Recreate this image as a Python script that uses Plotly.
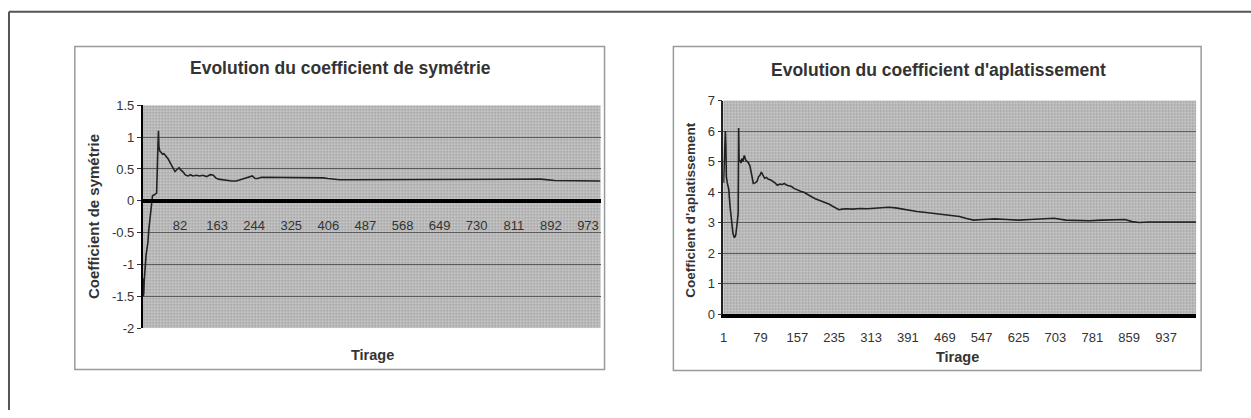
import plotly.graph_objects as go

W, H = 1251, 418

# ---------------- data ----------------
TIRAGE_SYM = [1, 2, 3, 4, 6, 8, 10, 12, 14, 16, 18, 20, 22, 25, 28, 31, 34, 35, 36, 38, 41, 44, 47, 50,
              53, 56, 59, 62, 65, 68, 71, 74, 77, 80, 83, 86, 89, 92, 95, 100, 105, 110, 118, 125, 132,
              140, 148, 155, 160, 166, 175, 185, 195, 205, 215, 225, 235, 240, 246, 252, 260, 275, 290,
              305, 320, 335, 350, 365, 380, 395, 405, 415, 430, 450, 480, 520, 560, 600, 640, 680, 720,
              760, 800, 840, 870, 900, 930, 960, 1000]
SKEW = [-1.22, -1.5, -1.45, -1.25, -1.0, -0.85, -0.75, -0.65, -0.45, -0.3, -0.1, 0.02, 0.08, 0.09,
        0.1, 0.12, 0.9, 1.1, 0.85, 0.78, 0.76, 0.73, 0.74, 0.71, 0.70, 0.66, 0.62, 0.58, 0.53, 0.49,
        0.46, 0.48, 0.5, 0.52, 0.49, 0.46, 0.45, 0.42, 0.40, 0.39, 0.41, 0.39, 0.40, 0.39, 0.40, 0.38,
        0.41, 0.40, 0.36, 0.34, 0.33, 0.32, 0.31, 0.31, 0.33, 0.36, 0.38, 0.39, 0.35, 0.35, 0.37, 0.37,
        0.36, 0.37, 0.37, 0.37, 0.36, 0.37, 0.37, 0.36, 0.35, 0.34, 0.33, 0.33, 0.33, 0.34, 0.34, 0.34,
        0.34, 0.33, 0.33, 0.33, 0.33, 0.34, 0.34, 0.32, 0.32, 0.32, 0.31]

TIRAGE_APL = [1, 3, 5, 6, 7, 9, 12, 15, 18, 21, 24, 27, 30, 32, 33, 34, 36, 38, 40, 42, 45, 48, 51, 54,
              57, 60, 62, 64, 68, 72, 75, 78, 81, 84, 88, 92, 96, 100, 105, 110, 115, 120, 125, 130,
              135, 140, 145, 150, 155, 160, 165, 170, 175, 180, 185, 190, 195, 200, 205, 210, 215, 220,
              225, 230, 235, 240, 245, 252, 260, 275, 290, 305, 320, 335, 350, 365, 380, 395, 410, 425,
              440, 455, 470, 485, 500, 515, 530, 550, 575, 600, 625, 650, 675, 700, 725, 750, 775, 800,
              825, 850, 865, 880, 900, 930, 960, 1000]
KURT = [4.3, 5.0, 6.0, 5.5, 4.5, 4.3, 4.1, 3.5, 3.0, 2.65, 2.5, 2.6, 3.0, 3.3, 6.1, 5.0, 5.05, 4.95,
        5.1, 5.0, 5.2, 5.05, 5.0, 4.95, 4.85, 4.6, 4.35, 4.28, 4.3, 4.35, 4.5, 4.55, 4.65, 4.55, 4.45,
        4.48, 4.42, 4.40, 4.36, 4.3, 4.22, 4.26, 4.25, 4.28, 4.22, 4.2, 4.18, 4.12, 4.08, 4.06, 4.02,
        4.0, 3.95, 3.9, 3.86, 3.82, 3.78, 3.75, 3.72, 3.69, 3.67, 3.64, 3.6, 3.55, 3.5, 3.45, 3.42,
        3.44, 3.45, 3.44, 3.46, 3.45, 3.47, 3.50, 3.50, 3.48, 3.44, 3.39, 3.36, 3.34, 3.31, 3.30, 3.27,
        3.23, 3.20, 3.13, 3.08, 3.10, 3.12, 3.10, 3.08, 3.10, 3.12, 3.14, 3.08, 3.06, 3.06, 3.08, 3.08,
        3.10, 3.03, 3.0, 3.02, 3.02, 3.02, 3.02]

N_TIRAGES = 1000
SYM_TICKS = [82, 163, 244, 325, 406, 487, 568, 649, 730, 811, 892, 973]
APL_TICKS = [1, 79, 157, 235, 313, 391, 469, 547, 625, 703, 781, 859, 937]
SYM_YTICKS = [-2, -1.5, -1, -0.5, 0, 0.5, 1, 1.5]
SYM_YLABELS = ["-2", "-1.5", "-1", "-0.5", "0", "0.5", "1", "1.5"]
APL_YTICKS = [0, 1, 2, 3, 4, 5, 6, 7]

TITLE_SYM = "Evolution du coefficient de symétrie"
TITLE_APL = "Evolution du coefficient d'aplatissement"
YTITLE_SYM = "Coefficient de symétrie"
YTITLE_APL = "Coefficient d'aplatissement"
XTITLE = "Tirage"

# ---------------- layout helpers ----------------
FONT = "Arial, Liberation Sans, sans-serif"
def px_x(p):
    return p / W
def px_y(p):
    return 1 - p / H

X_RANGE = [0.5, N_TIRAGES + 0.5]
SYM_RANGE = [-2, 1.5]
APL_RANGE = [0, 7]

# plot areas in pixels
P1 = dict(l=140, r=599, t=102, b=333)
P2 = dict(l=722, r=1196, t=97, b=318.5)

LINE_COLOR = "#222222"
GRID_COLOR = "#595959"
BG = "#c9c9c9"

fig = go.Figure()

def bg_trace(xa, ya, yr):
    return go.Scatter(
        x=[X_RANGE[0], X_RANGE[1], X_RANGE[1], X_RANGE[0], X_RANGE[0]],
        y=[yr[0], yr[0], yr[1], yr[1], yr[0]],
        xaxis=xa, yaxis=ya, mode="lines", line=dict(width=0),
        fill="toself", fillcolor="rgba(0,0,0,0)",
        fillpattern=dict(shape=".", fgcolor="#6a6a6a", bgcolor="rgba(0,0,0,0)",
                         size=3, solidity=0.4),
        hoverinfo="skip", showlegend=False)

fig.add_trace(bg_trace("x", "y", SYM_RANGE))
fig.add_trace(bg_trace("x2", "y2", APL_RANGE))

fig.add_trace(go.Scatter(x=TIRAGE_SYM, y=SKEW, xaxis="x", yaxis="y", mode="lines",
                         line=dict(color=LINE_COLOR, width=1.6), showlegend=False))
fig.add_trace(go.Scatter(x=TIRAGE_APL, y=KURT, xaxis="x2", yaxis="y2", mode="lines",
                         line=dict(color=LINE_COLOR, width=1.6), showlegend=False))

y1_dom = [px_y(P1["b"]), px_y(P1["t"])]
y2_dom = [px_y(P2["b"]), px_y(P2["t"])]
zero_frac = (0 - SYM_RANGE[0]) / (SYM_RANGE[1] - SYM_RANGE[0])
x1_pos = y1_dom[0] + zero_frac * (y1_dom[1] - y1_dom[0])

tickfont = dict(family=FONT, size=13, color="#333")

fig.update_layout(
    width=W, height=H, margin=dict(l=0, r=0, t=0, b=0),
    paper_bgcolor="white", plot_bgcolor=BG,
    xaxis=dict(domain=[px_x(P1["l"]), px_x(P1["r"])], range=X_RANGE, anchor="free",
               position=x1_pos, tickvals=SYM_TICKS, showgrid=False, zeroline=False,
               showline=True, linecolor="black", linewidth=4, ticks="",
               ticklabelstandoff=12, tickfont=tickfont),
    yaxis=dict(domain=y1_dom, range=SYM_RANGE, anchor="x", tickvals=SYM_YTICKS,
               ticktext=SYM_YLABELS, showgrid=True, gridcolor=GRID_COLOR, gridwidth=1.3,
               zeroline=False, showline=True, linecolor="black", linewidth=1.5,
               ticks="outside", ticklen=4, tickcolor="#333", tickfont=tickfont),
    xaxis2=dict(domain=[px_x(P2["l"]), px_x(P2["r"])], range=X_RANGE, anchor="y2",
                tickvals=APL_TICKS, showgrid=False, zeroline=False, showline=True,
                linecolor="black", linewidth=4, ticks="", ticklabelstandoff=8,
                tickfont=tickfont),
    yaxis2=dict(domain=y2_dom, range=APL_RANGE, anchor="x2", tickvals=APL_YTICKS,
                showgrid=True, gridcolor=GRID_COLOR, gridwidth=1.3, zeroline=False,
                showline=True, linecolor="#222", linewidth=1.5, ticks="outside",
                ticklen=4, tickcolor="#333", tickfont=tickfont),
)

ann_font_title = dict(family=FONT, size=17.5, color="#333")
anns = [
    dict(text=f"<b>{TITLE_SYM}</b>", x=px_x(338), y=px_y(63), font=ann_font_title),
    dict(text=f"<b>{TITLE_APL}</b>", x=px_x(938), y=px_y(65), font=ann_font_title),
    dict(text=f"<b>{XTITLE}</b>", x=px_x(370), y=px_y(361),
         font=dict(family=FONT, size=14.5, color="#333")),
    dict(text=f"<b>{XTITLE}</b>", x=px_x(957), y=px_y(363),
         font=dict(family=FONT, size=14.5, color="#333")),
    dict(text=f"<b>{YTITLE_SYM}</b>", x=px_x(90), y=px_y(217),
         font=dict(family=FONT, size=15, color="#333"), textangle=-90),
    dict(text=f"<b>{YTITLE_APL}</b>", x=px_x(689), y=px_y(210),
         font=dict(family=FONT, size=13.5, color="#333"), textangle=-90),
]
for a in anns:
    fig.add_annotation(xref="paper", yref="paper", showarrow=False,
                       xanchor="center", yanchor="middle", **a)

shapes = [
    # outer frame (top and left only visible)
    dict(type="line", x0=px_x(6), x1=1, y0=px_y(5), y1=px_y(5), line=dict(color="#555", width=2)),
    dict(type="line", x0=px_x(6), x1=px_x(6), y0=px_y(5), y1=0, line=dict(color="#555", width=2)),
    # chart boxes
    dict(type="rect", x0=px_x(72), x1=px_x(603), y0=px_y(376), y1=px_y(41),
         line=dict(color="#9a9a9a", width=1.5)),
    dict(type="rect", x0=px_x(672), x1=px_x(1201), y0=px_y(377), y1=px_y(41),
         line=dict(color="#9a9a9a", width=1.5)),
]
for s in shapes:
    fig.add_shape(xref="paper", yref="paper", layer="below", **s)

fig.write_html("out.html")
